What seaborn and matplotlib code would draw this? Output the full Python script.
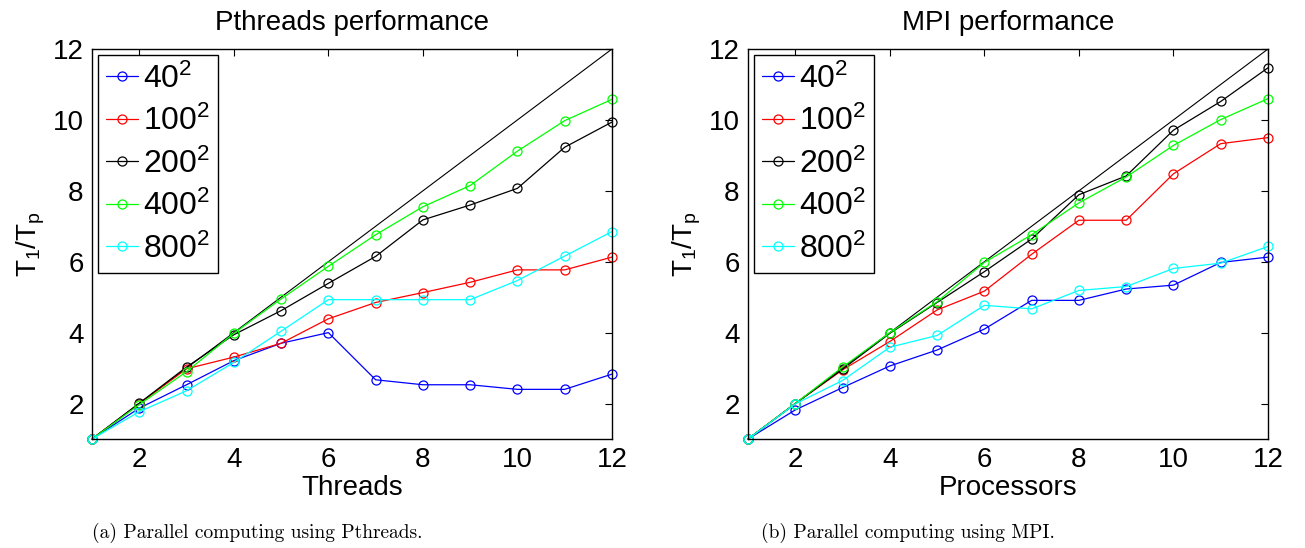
import numpy as np
import pandas as pd
import matplotlib
matplotlib.use('Agg')
import matplotlib.pyplot as plt
import seaborn as sns

# --- data ---
procs = [1, 2, 3, 4, 5, 6, 7, 8, 9, 10, 11, 12]
sizes = ['40', '100', '200', '400', '800']
colors = ['#0000ff', '#ff0000', '#000000', '#00ff00', '#00ffff']

# Pthreads speedup T1/Tp
pth_40 = [1, 1.87, 2.53, 3.21, 3.70, 4.00, 2.67, 2.53, 2.53, 2.40, 2.40, 2.83]
pth_100 = [1, 2.00, 2.98, 3.31, 3.70, 4.39, 4.85, 5.13, 5.42, 5.77, 5.77, 6.13]
pth_200 = [1, 2.01, 3.03, 3.94, 4.62, 5.39, 6.15, 7.18, 7.60, 8.07, 9.23, 9.94]
pth_400 = [1, 1.97, 2.90, 3.98, 4.95, 5.87, 6.76, 7.55, 8.15, 9.12, 9.98, 10.58]
pth_800 = [1, 1.77, 2.36, 3.16, 4.04, 4.93, 4.93, 4.93, 4.93, 5.47, 6.16, 6.85]

# MPI speedup T1/Tp
mpi_40 = [1, 1.82, 2.45, 3.06, 3.51, 4.10, 4.91, 4.91, 5.23, 5.34, 5.98, 6.13]
mpi_100 = [1, 2.00, 2.95, 3.75, 4.64, 5.17, 6.21, 7.17, 7.17, 8.48, 9.33, 9.50]
mpi_200 = [1, 2.00, 2.97, 3.98, 4.85, 5.72, 6.64, 7.89, 8.42, 9.71, 10.52, 11.47]
mpi_400 = [1, 2.00, 3.03, 4.00, 4.87, 5.98, 6.76, 7.66, 8.39, 9.28, 10.01, 10.60]
mpi_800 = [1, 1.99, 2.65, 3.59, 3.92, 4.77, 4.67, 5.19, 5.30, 5.81, 5.96, 6.43]

pth = [pth_40, pth_100, pth_200, pth_400, pth_800]
mpi = [mpi_40, mpi_100, mpi_200, mpi_400, mpi_800]

sns.set_style('white')
plt.rcParams['font.family'] = ['Liberation Sans', 'DejaVu Sans']
plt.rcParams['mathtext.fontset'] = 'custom'
plt.rcParams['mathtext.rm'] = 'Liberation Sans'
plt.rcParams['text.color'] = 'k'
plt.rcParams['axes.labelcolor'] = 'k'

W, H = 1305, 548
fig = plt.figure(figsize=(W / 100, H / 100), dpi=100)


def panel(left_px, series, title, xlabel):
    ax = fig.add_axes([left_px / W, (H - 439) / H, 520 / W, 390 / H])
    # ideal speedup
    sns.lineplot(x=procs, y=procs, color='k', lw=0.8, ax=ax, legend=False)
    for s, c, vals in zip(sizes, colors, series):
        sns.lineplot(x=procs, y=vals, color=c, lw=0.9, marker='o', ms=6.5,
                     mfc='none', mec=c, mew=0.9, ax=ax, clip_on=False,
                     label=r'$\mathregular{' + s + '^2}$')
    ax.set_xlim(1, 12)
    ax.set_ylim(1, 12)
    ax.set_xticks([2, 4, 6, 8, 10, 12])
    ax.set_yticks([2, 4, 6, 8, 10, 12])
    ax.tick_params(direction='in', top=True, right=True, length=5,
                   width=0.8, labelsize=20, pad=6, colors='k')
    for sp in ax.spines.values():
        sp.set_color('k')
        sp.set_linewidth(1.0)
    ax.set_title(title, fontsize=20, pad=14, color='k')
    ax.set_xlabel(xlabel, fontsize=20, labelpad=1)
    ax.set_ylabel(r'$\mathregular{T_1/T_p}$', fontsize=20, labelpad=4)
    leg = ax.legend(loc='upper left', fontsize=23, frameon=True,
                    fancybox=False, framealpha=1, edgecolor='k',
                    handlelength=1.0, handletextpad=0.15, labelspacing=0.35,
                    borderpad=0.25, borderaxespad=0.2)
    leg.get_frame().set_linewidth(1.0)
    return ax


panel(92, pth, 'Pthreads performance', 'Threads')
panel(748, mpi, 'MPI performance', 'Processors')

fig.text(257 / W, 1 - 533 / H, '(a) Parallel computing using Pthreads.',
         family='cmr10', fontsize=14, ha='center', va='center')
fig.text(908 / W, 1 - 533 / H, '(b) Parallel computing using MPI.',
         family='cmr10', fontsize=14, ha='center', va='center')

fig.savefig('out.png', dpi=100)
